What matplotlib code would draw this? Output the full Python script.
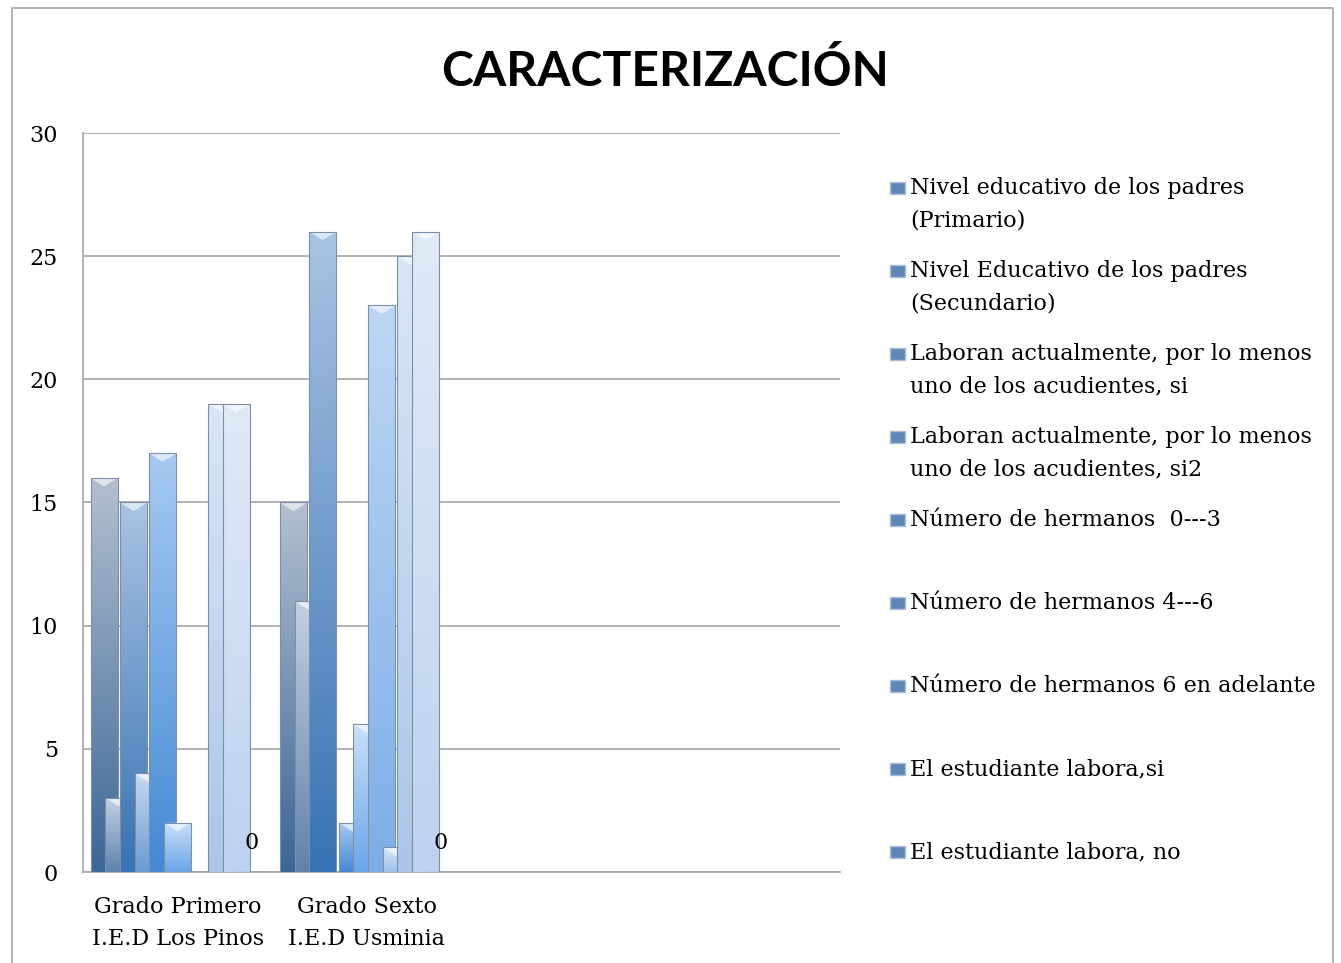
import numpy as np
import matplotlib.pyplot as plt
from matplotlib.patches import Rectangle, Polygon
from matplotlib.colors import to_rgb

categorias = ['Grado Primero\nI.E.D Los Pinos', 'Grado Sexto\nI.E.D Usminia', '', '']

leyenda = [
    'Nivel educativo de los padres\n(Primario)',
    'Nivel Educativo de los padres\n(Secundario)',
    'Laboran actualmente, por lo menos\nuno de los acudientes, si',
    'Laboran actualmente, por lo menos\nuno de los acudientes, si2',
    'Número de hermanos  0---3',
    'Número de hermanos 4---6',
    'Número de hermanos 6 en adelante',
    'El estudiante labora,si',
    'El estudiante labora, no',
]

# columnas de cada grupo, en el orden en que se ven de izquierda a derecha
col_primero = [16, 3, 15, 4, 17, 2, 0, 0, 19, 19, 0]
col_sexto = [15, 11, 26, 0, 2, 6, 23, 1, 25, 26, 0]
col_etiqueta = 10  # columna que lleva la etiqueta "0"

# degradado (abajo, arriba) por columna
colores = [
    ('#3b6797', '#b3bfd0'),
    ('#5f83ad', '#c4cfdf'),
    ('#3873b3', '#a9c3e3'),
    ('#6a9ad4', '#c7d9f0'),
    ('#4589d4', '#a6caf2'),
    ('#6aa6e8', '#c9e0f8'),
    ('#7daee6', '#bcd7f5'),
    ('#9fc1ea', '#d8e7f8'),
    ('#abc6ea', '#d9e6f6'),
    ('#bdd2ef', '#e0eaf7'),
    ('#c6d8f0', '#e4edf8'),
]

W, H = 1341, 963
fig = plt.figure(figsize=(W / 100, H / 100), dpi=100)
ax = fig.add_axes([83 / W, 1 - 872 / H, (840 - 83) / W, (872 - 133) / H])

serif = 'DejaVu Serif'
fs = 16
valores = [col_primero, col_sexto]
x = np.arange(len(valores))
n = len(col_primero)
paso = 0.0777
ancho = 0.143

for i in range(n):
    alturas = [v[i] for v in valores]
    z = 3 + i
    bars = ax.bar(x + (i - (n - 1) / 2) * paso, alturas, ancho,
                  facecolor='none', edgecolor='#7d8ea6', linewidth=0.8, zorder=z + 0.3)
    c0, c1 = np.array(to_rgb(colores[i][0])), np.array(to_rgb(colores[i][1]))
    t = np.linspace(0, 1, 64)[:, None]
    grad = (c0 * (1 - t) + c1 * t)[:, None, :]
    for b in bars:
        h = b.get_height()
        if h <= 0:
            continue
        x0 = b.get_x()
        x1 = x0 + b.get_width()
        im = ax.imshow(grad, extent=(x0, x1, 0, h), origin='lower', aspect='auto',
                       interpolation='bilinear', zorder=z)
        im.set_clip_path(b)
        if h > 0.5:
            d = 0.35
            ax.add_patch(Polygon([(x0, h), (x1, h), ((x0 + x1) / 2, h - d)],
                                 closed=True, facecolor='white', alpha=0.6,
                                 edgecolor='none', zorder=z + 0.2))
    if i == col_etiqueta:
        for b in bars:
            ax.annotate(f'{b.get_height():g}', (b.get_x() + b.get_width() / 2, b.get_height()),
                        xytext=(0, 18), textcoords='offset pixels', ha='center', va='bottom',
                        fontsize=fs, family=serif, zorder=20)

ax.set_xlim(-0.5, len(categorias) - 0.5)
ax.set_ylim(0, 30)
ax.set_yticks(range(0, 31, 5))
ax.set_xticks(range(len(categorias)))
ax.set_xticklabels(categorias, family=serif, fontsize=fs, linespacing=1.6)
for lab in ax.get_yticklabels():
    lab.set_family(serif)
    lab.set_fontsize(fs)
ax.tick_params(axis='both', length=0)
ax.tick_params(axis='y', pad=18)
ax.tick_params(axis='x', pad=17)
ax.yaxis.grid(True, color='#a6a6a6', linewidth=1.2)
ax.set_axisbelow(True)
for s in ['top', 'right']:
    ax.spines[s].set_visible(False)
for s in ['left', 'bottom']:
    ax.spines[s].set_color('#a6a6a6')
    ax.spines[s].set_linewidth(1.2)

fig.text(665 / W, 1 - 71 / H, 'CARACTERIZACIÓN', ha='center', va='center',
         fontsize=34.7, weight='bold', family='Lato')

# leyenda
for k, nombre in enumerate(leyenda):
    yc = 189 + 83 * k
    fig.add_artist(Rectangle((890 / W, 1 - (yc + 5) / H), 15 / W, 12 / H,
                             transform=fig.transFigure, facecolor='#5f88b8',
                             edgecolor='#a9bdd6', linewidth=1))
    fig.text(910 / W, 1 - (yc - 12) / H, nombre, ha='left', va='top',
             fontsize=fs, family=serif, linespacing=1.62)

fig.add_artist(Rectangle((12 / W, -0.01), (1333 - 12) / W, 1 - 8 / H + 0.01,
                         transform=fig.transFigure, fill=False,
                         edgecolor='#a6a6a6', linewidth=1.2))

fig.savefig('out.png', dpi=100, facecolor='white')
